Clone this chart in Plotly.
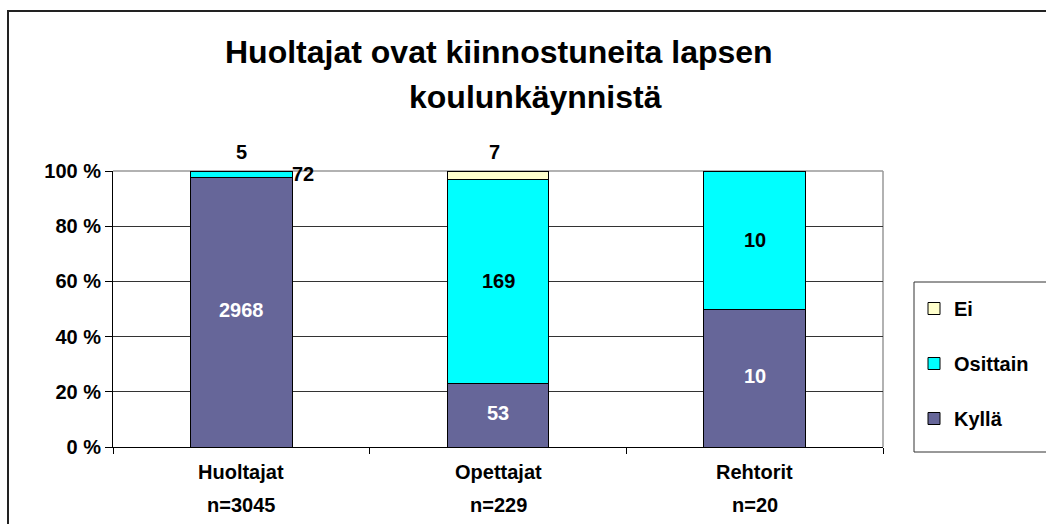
import plotly.graph_objects as go

categories = ["Huoltajat", "Opettajat", "Rehtorit"]
n_labels = ["n=3045", "n=229", "n=20"]
kylla = [2968, 53, 10]
osittain = [72, 169, 10]
ei = [5, 7, 0]
series_names = ["Kyllä", "Osittain", "Ei"]
series_colors = ["#666699", "#00FFFF", "#FFFFCC"]
title_line1 = "Huoltajat ovat kiinnostuneita lapsen"
title_line2 = "koulunkäynnistä"
y_ticks = [0, 20, 40, 60, 80, 100]

FONT = "Liberation Sans, Arial, sans-serif"
FS = 20

fig = go.Figure()
for j, (name, vals, col) in enumerate(zip(series_names, [kylla, osittain, ei], series_colors)):
    fig.add_trace(go.Bar(
        x=categories, y=vals, name=f"<b>{name}</b>", marker_color=col,
        marker_line_color="black", marker_line_width=1,
        legendgroup=name, legendrank=len(series_names) - j, width=0.395,
    ))

totals = [a + b + c for a, b, c in zip(kylla, osittain, ei)]
annotations = []
# data labels
for i, cat in enumerate(categories):
    t = totals[i]
    k = kylla[i] / t * 100
    o = osittain[i] / t * 100
    annotations.append(dict(x=cat, y=k / 2, text=f"<b>{kylla[i]}</b>", showarrow=False, yanchor="middle",
                            yshift=2, font=dict(color="white", size=FS, family=FONT)))
    if o >= 10:
        annotations.append(dict(x=cat, y=k + o / 2, text=f"<b>{osittain[i]}</b>", showarrow=False,
                                yanchor="middle", font=dict(color="black", size=FS, family=FONT)))
    elif osittain[i] > 0:
        annotations.append(dict(x=cat, y=k + o / 2, text=f"<b>{osittain[i]}</b>", showarrow=False,
                                yanchor="middle", xshift=62, yshift=1,
                                font=dict(color="black", size=FS, family=FONT)))
    if ei[i] > 0:
        annotations.append(dict(x=cat, y=100, yshift=19, text=f"<b>{ei[i]}</b>", showarrow=False,
                                yanchor="middle", xshift=-4 if i else 0,
                                font=dict(color="black", size=FS, family=FONT)))
    # category labels
    annotations.append(dict(x=cat, xref="x", y=0, yref="paper", yshift=-25, text=f"<b>{cat}</b>",
                            yanchor="middle", showarrow=False, font=dict(color="black", size=FS, family=FONT)))
    annotations.append(dict(x=cat, xref="x", y=0, yref="paper", yshift=-58, text=f"<b>{n_labels[i]}</b>",
                            yanchor="middle", showarrow=False, font=dict(color="black", size=FS, family=FONT)))

W, H = 1046, 524
L, R, T, B = 113, 883, 171, 447
pw, ph = R - L, B - T


def px(xp):
    return (xp - L) / pw


def py(yp):
    return (B - yp) / ph


# title
annotations.append(dict(x=px(499), xref="paper", y=py(52), yref="paper", text=f"<b>{title_line1}</b>",
                        xanchor="center", yanchor="middle",
                        showarrow=False, font=dict(color="black", size=32, family=FONT)))
annotations.append(dict(x=px(535), xref="paper", y=py(97), yref="paper", text=f"<b>{title_line2}</b>",
                        xanchor="center", yanchor="middle",
                        showarrow=False, font=dict(color="black", size=32, family=FONT)))

shapes = [
    # outer border
    dict(type="rect", xref="paper", yref="paper", x0=px(8), x1=px(1100), y0=py(11), y1=py(600),
         line=dict(color="#222", width=2), layer="below"),
    # top and right plot border (gray)
    dict(type="line", xref="paper", yref="paper", x0=0, x1=1, y0=1, y1=1,
         line=dict(color="#999", width=1.5), layer="below"),
    dict(type="line", xref="paper", yref="paper", x0=1, x1=1, y0=0, y1=1,
         line=dict(color="#999", width=1.5), layer="below"),
    # legend box
    dict(type="rect", xref="paper", yref="paper", x0=px(914), x1=px(1100), y0=py(282), y1=py(452),
         line=dict(color="#333", width=1), layer="below"),
]

fig.update_layout(
    barmode="stack", barnorm="percent",
    width=W, height=H,
    margin=dict(l=L, r=W - R, t=T, b=H - B, pad=0),
    paper_bgcolor="white", plot_bgcolor="white",
    font=dict(family=FONT, size=FS, color="black"),
    showlegend=True,
    legend=dict(
        x=px(914), y=py(289), xanchor="left", yanchor="top",
        traceorder="grouped", tracegroupgap=26,
        borderwidth=0, bgcolor="rgba(0,0,0,0)",
        font=dict(size=FS, family=FONT, color="black"),
        itemwidth=30,
    ),
    annotations=annotations,
    shapes=shapes,
    xaxis=dict(
        showticklabels=False, ticks="outside", tickson="boundaries", ticklen=6,
        tickcolor="black", showline=True, linecolor="black", linewidth=1,
        showgrid=False, range=[-0.5, 2.5],
    ),
    yaxis=dict(
        range=[0, 100], tickvals=y_ticks, ticktext=[f"<b>{v} %</b>" for v in y_ticks],
        ticks="outside", ticklen=7, tickcolor="black",
        showline=True, linecolor="black", linewidth=1,
        showgrid=True, gridcolor="#333", gridwidth=1,
        tickfont=dict(size=FS, family=FONT, color="black"), zeroline=False,
    ),
)

fig.write_html("out.html", config={"displayModeBar": False},
               post_script="document.body.style.margin='0';document.body.style.overflow='hidden';")
